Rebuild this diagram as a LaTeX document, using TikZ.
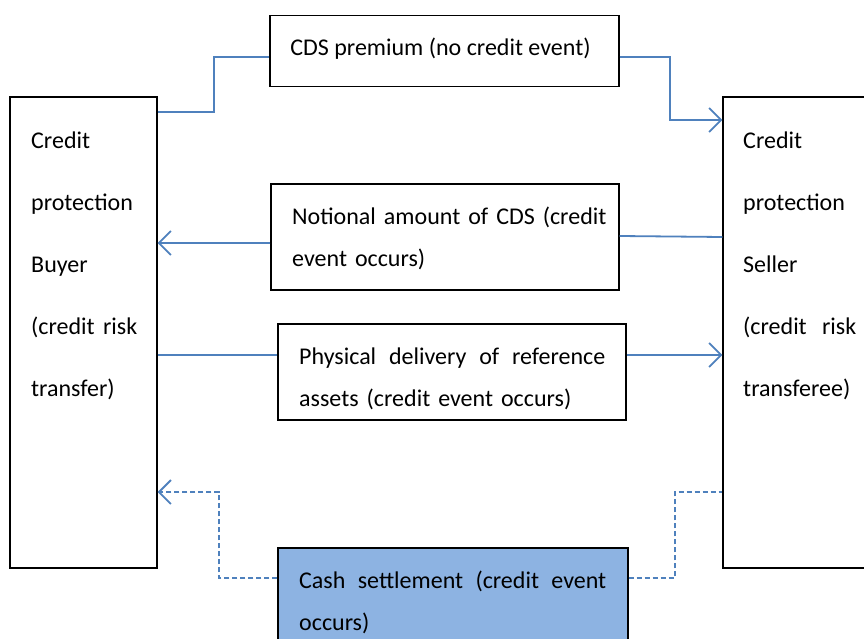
\documentclass[tikz,border=0pt]{standalone}
\usepackage{fontspec}
\setmainfont{Carlito}
\usetikzlibrary{arrows.meta}
\definecolor{linkblue}{HTML}{4F81BD}
\definecolor{cashfill}{HTML}{8DB3E2}
\begin{document}
\begin{tikzpicture}[x=1pt,y=-1pt,
  box/.style={draw=black,line width=1.4pt,rectangle,inner sep=0pt},
  lbl/.style={font=\fontsize{24}{42}\selectfont,inner sep=0pt,align=left},
  side/.style={font=\fontsize{24}{62}\selectfont,inner sep=0pt,align=left},
  conn/.style={draw=linkblue,line width=1.8pt},
  arr/.style={conn,-{Straight Barb[length=12pt,width=24pt,line width=1.8pt]}},
  dashconn/.style={conn,dash pattern=on 5pt off 3pt}]
\clip (0,0) rectangle (864,639);
\fill[white] (0,0) rectangle (864,639);

% parties
\node[box,minimum width=147,minimum height=471] (buyer) at (83.5,332.5) {};
\node[box,minimum width=160,minimum height=471] (seller) at (803,332.5) {};
\node[side,text width=106,anchor=base west] (buyerT) at (31,149)
  {Credit\\protection\\Buyer\\(credit\hfill risk\\transfer)};
\node[side,text width=113,anchor=base west] (sellerT) at (743,149)
  {Credit\\protection\\Seller\\(credit\hfill risk\\transferee)};

% flows
\node[box,minimum width=349,minimum height=71] (prem) at (444.5,51) {};
\node[lbl,anchor=base] (premT) at (440.5,56) {CDS premium (no credit event)};

\node[box,minimum width=348,minimum height=106] (notl) at (445,237) {};
\node[lbl,text width=325,anchor=base west] (notlT) at (292,224)
  {Notional amount of CDS (credit\\event occurs)};

\node[box,minimum width=348,minimum height=96] (phys) at (452,372) {};
\node[lbl,text width=306,anchor=base west] (physT) at (299,364)
  {Physical\hfill delivery\hfill of\hfill reference\\assets (credit event occurs)};

\node[box,fill=cashfill,minimum width=350,minimum height=130] (cash) at (453,613) {};
\node[lbl,text width=307,anchor=base west] (cashT) at (299,588)
  {Cash\hfill settlement\hfill (credit\hfill event\\occurs)};

% connectors
\draw[conn] (buyer.east |- 0,112) -| (214,57) -- (prem.west |- 0,57);
\draw[arr] (prem.east |- 0,57) -| (670,120) -- (seller.west |- 0,120);
\draw[arr] (notl.west |- 0,243) -- (buyer.east |- 0,243);
\draw[conn] (notl.east |- 0,236) -- (seller.west |- 0,237);
\draw[conn] (buyer.east |- 0,355) -- (phys.west |- 0,355);
\draw[arr] (phys.east |- 0,355) -- (seller.west |- 0,355);
\draw[arr,dash pattern=on 5pt off 3pt] (cash.west |- 0,578) -| (219,492) -- (buyer.east |- 0,492);
\draw[dashconn] (cash.east |- 0,578) -| (675,492) -- (seller.west |- 0,492);
\end{tikzpicture}
\end{document}
